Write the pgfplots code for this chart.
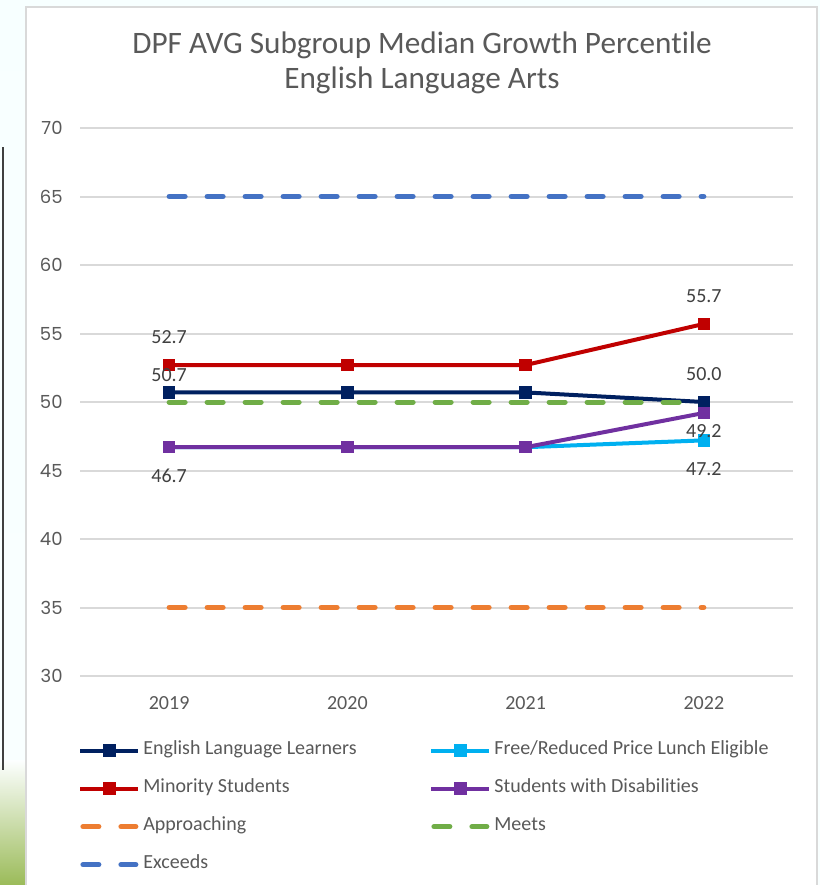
\documentclass[border=0pt]{standalone}
\usepackage{fontspec}
\setmainfont{Carlito}[RawFeature=-liga]
\newfontfamily\tickfont{Poppins}
\usepackage{pgfplots}
\pgfplotsset{compat=1.18}

\definecolor{ell}{HTML}{002060}
\definecolor{frl}{HTML}{00B0F0}
\definecolor{minority}{HTML}{C00000}
\definecolor{swd}{HTML}{7030A0}
\definecolor{approach}{HTML}{ED7D31}
\definecolor{meets}{HTML}{70AD47}
\definecolor{exceeds}{HTML}{4472C4}
\definecolor{gridgray}{HTML}{D9D9D9}
\definecolor{textgray}{HTML}{595959}
\definecolor{labelgray}{HTML}{404040}
\definecolor{slidegreen}{HTML}{9BBB59}

\pgfplotsset{
  lbl/.style={draw=none, mark=none, forget plot, point meta=y,
    nodes near coords={\pgfmathprintnumber[fixed,fixed zerofill,precision=1]{\pgfplotspointmeta}},
    every node near coord/.style={font=\fontsize{10}{12}\selectfont, text=labelgray,
      anchor=center, inner sep=0pt, yshift=#1}},
  dashleg/.style={legend image code/.code={\draw[##1] (1.25pt,0pt) -- (27.75pt,0pt);}},
  target/.style={line width=2.5pt, dash pattern=on 8pt off 11pt, line cap=round, mark=none, dashleg},
  grp/.style={mark=square*, mark size=2.1pt},
}

\begin{document}
\begin{tikzpicture}
% slide background and chart frame, in pixel units
\begin{scope}[x=0.5pt,y=-0.5pt]
  \shade[top color=white!70!cyan!10, bottom color=white!85!cyan!15] (0,0) rectangle (820,885);
  \shade[top color=white!90!cyan!10, bottom color=slidegreen] (0,760) rectangle (26,885);
  \draw[black!75, line width=1pt] (3,147) -- (3,770);
  \filldraw[fill=white, draw=gridgray, line width=1pt] (26,7) rectangle (817,900);
  \node[font=\fontsize{15.6}{17.8}\selectfont, text=textgray, align=center] at (422,63)
    {DPF AVG Subgroup Median Growth Percentile\\English Language Arts};
\end{scope}

\begin{axis}[
  at={(40pt,-338pt)}, anchor=south west,
  scale only axis, width=356.5pt, height=274pt,
  xmin=-0.5, xmax=3.5, ymin=30, ymax=70,
  xtick={0,1,2,3}, xticklabels={2019,2020,2021,2022},
  ytick={30,35,40,45,50,55,60,65,70},
  axis line style={draw=none}, major tick length=0pt,
  ymajorgrids, grid style={gridgray, line width=1pt},
  clip=false,
  /pgf/number format/assume math mode=true,
  yticklabel style={font=\tickfont\fontsize{9}{11}\selectfont, text=textgray, anchor=east, inner sep=0pt, xshift=-8.5pt},
  xticklabel style={font=\fontsize{10}{12}\selectfont, text=textgray, anchor=north, inner sep=0pt, yshift=-10pt},
  every axis plot/.append style={line width=2pt},
  legend image code/.code={\draw[mark repeat=2,mark phase=2,#1] plot coordinates {(0pt,0pt) (14.5pt,0pt) (29pt,0pt)};},
  legend columns=2,
  legend cell align=left,
  legend style={draw=none, fill=none, at={(0,-0.11)}, anchor=north west, xshift=-4pt,
    font=\fontsize{10}{12}\selectfont, text=textgray, row sep=9pt,
    nodes={inner sep=0pt, text height=7pt, text depth=3pt}},
]
\addplot[ell, grp] coordinates {(0,50.7) (1,50.7) (2,50.7) (3,50.0)};
\addlegendentry{\makebox[144.5pt][l]{\hspace{1.5pt}English Language Learners}}
\addplot[frl, grp] coordinates {(0,46.7) (1,46.7) (2,46.7) (3,47.2)};
\addlegendentry{\hspace{1.5pt}Free/Reduced Price Lunch Eligible}
\addplot[minority, grp] coordinates {(0,52.7) (1,52.7) (2,52.7) (3,55.7)};
\addlegendentry{\makebox[144.5pt][l]{\hspace{1.5pt}Minority Students}}
\addplot[swd, grp] coordinates {(0,46.7) (1,46.7) (2,46.7) (3,49.2)};
\addlegendentry{\hspace{1.5pt}Students with Disabilities}
\addplot[approach, target] coordinates {(0,35) (1,35) (2,35) (3,35)};
\addlegendentry{\makebox[144.5pt][l]{\hspace{1.5pt}Approaching}}
\addplot[meets, target] coordinates {(0,50) (1,50) (2,50) (3,50)};
\addlegendentry{\hspace{1.5pt}Meets}
\addplot[exceeds, target] coordinates {(0,65) (1,65) (2,65) (3,65)};
\addlegendentry{\makebox[144.5pt][l]{\hspace{1.5pt}Exceeds}}

% data labels
\addplot[lbl=14pt] coordinates {(0,52.7) (3,55.7) (3,50.0)};
\addplot[lbl=8.5pt] coordinates {(0,50.7)};
\addplot[lbl=-14.5pt] coordinates {(0,46.7) (3,47.2)};
\addplot[lbl=-9pt] coordinates {(3,49.2)};
\end{axis}

\pgfresetboundingbox
\path[use as bounding box] (0pt,0pt) rectangle (410pt,-442.5pt);
\end{tikzpicture}
\end{document}
